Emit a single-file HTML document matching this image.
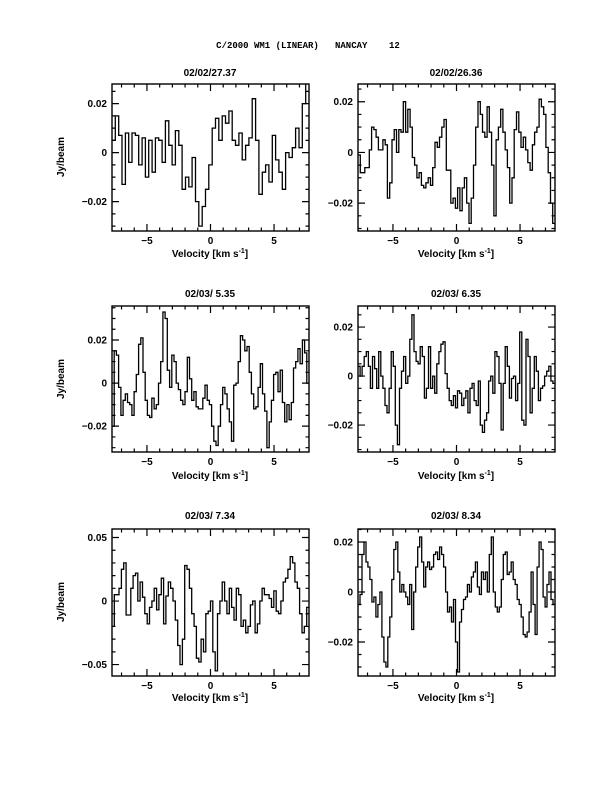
<!DOCTYPE html>
<html><head><meta charset="utf-8"><style>
body{margin:0;background:#fff}
svg{display:block}
text{font-family:"Liberation Sans",sans-serif;font-weight:bold;font-size:10px;fill:#000}
.m{font-family:"Liberation Mono",monospace;font-weight:bold;font-size:9px;white-space:pre}
</style></head><body>
<svg id="s" width="612" height="792" xmlns="http://www.w3.org/2000/svg">
<text class="m" x="308" y="48" text-anchor="middle" xml:space="preserve">C/2000 WM1 (LINEAR)   NANCAY    12</text>
<text x="210" y="76" text-anchor="middle">02/02/27.37</text>
<text x="456" y="76" text-anchor="middle">02/02/26.36</text>
<text x="210" y="297" text-anchor="middle">02/03/ 5.35</text>
<text x="456" y="297" text-anchor="middle">02/03/ 6.35</text>
<text x="210" y="519" text-anchor="middle">02/03/ 7.34</text>
<text x="456" y="519" text-anchor="middle">02/03/ 8.34</text>
<text x="210" y="257" text-anchor="middle">Velocity [km s<tspan dy="-4" font-size="7">-1</tspan><tspan dy="4">]</tspan></text>
<text x="456" y="257" text-anchor="middle">Velocity [km s<tspan dy="-4" font-size="7">-1</tspan><tspan dy="4">]</tspan></text>
<text x="210" y="479" text-anchor="middle">Velocity [km s<tspan dy="-4" font-size="7">-1</tspan><tspan dy="4">]</tspan></text>
<text x="456" y="479" text-anchor="middle">Velocity [km s<tspan dy="-4" font-size="7">-1</tspan><tspan dy="4">]</tspan></text>
<text x="210" y="701" text-anchor="middle">Velocity [km s<tspan dy="-4" font-size="7">-1</tspan><tspan dy="4">]</tspan></text>
<text x="456" y="701" text-anchor="middle">Velocity [km s<tspan dy="-4" font-size="7">-1</tspan><tspan dy="4">]</tspan></text>
<text transform="translate(64,157) rotate(-90)" text-anchor="middle">Jy/beam</text>
<text transform="translate(64,379) rotate(-90)" text-anchor="middle">Jy/beam</text>
<text transform="translate(64,602) rotate(-90)" text-anchor="middle">Jy/beam</text>
<g id="g"></g>
</svg>
<script>
var P=[
{x0:112,x1:309,y0:84,y1:231,v0:0.028,v1:-0.032,maj:[[0.02,'0.02'],[0,'0'],[-0.02,'-0.02']],mn:0.005,d:[0.005,0.015,0.007,-0.013,0.008,-0.004,0.008,0.007,-0.005,0.006,-0.01,0.005,-0.008,0.006,0.005,-0.004,0.013,0.003,-0.005,0.009,0.003,-0.015,-0.01,-0.014,-0.002,-0.02,-0.03,-0.022,-0.015,-0.005,0.01,0.014,0.005,0.015,0.012,0.017,0.005,0.003,0.008,-0.003,0.003,0.006,0.022,0.005,-0.017,-0.008,-0.005,-0.012,0.007,-0.003,-0.008,-0.015,0.0,-0.002,0.002,0.01,0.002,0.02,0.03]},
{x0:358,x1:555,y0:84,y1:231,v0:0.027,v1:-0.031,maj:[[0.02,'0.02'],[0,'0'],[-0.02,'-0.02']],mn:0.005,d:[-0.001,-0.008,-0.008,-0.006,-0.006,0.001,0.01,0.009,0.006,0.001,0.001,0.005,0.003,-0.018,-0.012,0.005,0.009,0.0,0.009,0.008,0.02,0.008,0.017,0.01,-0.002,-0.005,-0.01,-0.008,-0.013,-0.014,-0.012,-0.01,-0.013,-0.006,0.004,0.002,0.006,0.01,0.013,-0.007,-0.007,-0.02,-0.018,-0.022,-0.014,-0.023,-0.014,-0.01,-0.02,-0.028,-0.018,-0.005,0.01,0.02,0.015,0.008,0.006,0.018,0.008,-0.005,-0.025,0.005,0.01,0.017,0.008,0.001,-0.006,-0.02,-0.01,0.009,0.016,0.008,0.002,0.006,0.001,-0.004,-0.007,0.003,0.008,0.01,0.021,0.018,0.015,0.002,-0.008,-0.02,-0.028]},
{x0:112,x1:309,y0:306,y1:452,v0:0.0358,v1:-0.032,maj:[[0.02,'0.02'],[0,'0'],[-0.02,'-0.02']],mn:0.005,d:[-0.02,0.015,0.013,-0.002,-0.015,-0.008,-0.005,-0.009,-0.01,-0.015,-0.004,0.004,0.018,0.021,0.005,-0.008,-0.015,-0.016,-0.007,-0.012,-0.01,0.0,0.01,0.033,0.03,0.006,-0.002,0.013,0.01,0.0,-0.003,-0.008,-0.01,-0.004,0.012,0.002,-0.008,-0.004,-0.011,-0.012,-0.012,-0.007,-0.001,-0.008,-0.01,-0.02,-0.027,-0.029,-0.02,-0.01,-0.002,-0.005,-0.012,-0.018,-0.027,-0.001,0,0.01,0.022,0.02,0.015,0.017,0.005,-0.005,-0.012,-0.011,-0.002,0.009,-0.005,-0.013,-0.03,-0.018,-0.008,0.004,0.005,-0.004,0.006,-0.009,-0.018,-0.01,-0.017,-0.009,0.007,0.01,0.016,0.009,0.02,0.014,0.0]},
{x0:358,x1:555,y0:306,y1:452,v0:0.0286,v1:-0.031,maj:[[0.02,'0.02'],[0,'0'],[-0.02,'-0.02']],mn:0.005,d:[0.004,0.0,0.004,0.008,0.01,0.004,-0.005,0.008,0.003,-0.005,0.01,0.0,-0.005,-0.012,-0.015,-0.005,0.01,0.004,-0.02,-0.028,-0.005,0.002,0.008,-0.003,0.0,0.015,0.025,0.01,0.006,0.005,0.012,0.008,-0.009,-0.005,0.012,-0.005,0.0,-0.007,0.005,0.01,0.013,0.014,0.001,-0.005,-0.01,-0.012,-0.008,-0.013,-0.006,-0.007,-0.012,-0.009,-0.006,-0.015,-0.005,-0.003,-0.01,-0.012,-0.002,-0.02,-0.023,-0.018,-0.015,-0.002,0.0,-0.007,0.01,0.008,-0.003,-0.022,-0.003,0.012,0.004,-0.009,-0.001,0.0,-0.01,-0.003,0.018,-0.018,-0.02,0.015,0.008,-0.015,-0.005,0.008,0.002,-0.01,-0.005,-0.004,0.0,0.002,0.004,-0.002,-0.003]},
{x0:112,x1:309,y0:529,y1:676,v0:0.0567,v1:-0.059,maj:[[0.05,'0.05'],[0,'0'],[-0.05,'-0.05']],mn:0.01,d:[-0.02,0.005,0.005,0.01,0.025,0.03,-0.011,-0.011,0.01,0.02,0.022,0.0,0.015,0.003,-0.01,-0.018,-0.005,0.0,0.01,-0.007,0.005,0.018,-0.018,0.004,0.015,0.01,0.0,-0.015,-0.035,-0.05,-0.03,0.028,0.025,0.01,-0.01,-0.02,-0.045,-0.048,-0.03,-0.04,-0.01,-0.008,0.0,-0.04,-0.055,-0.01,0.0,0.015,0.0,-0.01,0.01,-0.005,-0.015,0.01,0.005,-0.02,-0.015,-0.025,-0.02,-0.003,0.0,-0.025,-0.018,0.0,0.01,0.005,0.005,0.002,-0.005,0.008,-0.008,-0.01,0.0,0.015,0.018,0.025,0.035,0.03,0.015,0.01,-0.01,-0.025,-0.02,-0.005]},
{x0:358,x1:555,y0:529,y1:676,v0:0.0252,v1:-0.0336,maj:[[0.02,'0.02'],[0,'0'],[-0.02,'-0.02']],mn:0.005,d:[-0.005,-0.001,0.015,0.02,0.012,0.01,0.005,-0.004,-0.002,-0.01,-0.005,0.0,-0.018,-0.028,-0.03,-0.018,-0.01,0.005,0.017,0.02,0.008,0.0,0.003,0.0,-0.002,-0.005,0.003,-0.015,0.0,0.01,0.018,0.022,0.012,0.002,0.01,0.012,0.009,0.01,0.015,0.016,0.013,0.018,0.015,0.01,0.0,-0.008,-0.006,-0.012,-0.003,-0.02,-0.032,-0.012,-0.007,-0.003,-0.002,0.003,0.0,0.006,0.008,0.012,0.002,-0.001,0.008,0.005,0.008,0.0,0.015,0.022,0.0,-0.006,-0.008,-0.006,0.005,0.015,0.016,0.007,0.008,0.012,0.005,0.003,-0.003,-0.005,-0.01,-0.017,-0.018,-0.016,-0.008,0.008,-0.005,-0.017,0.01,0.02,0.017,-0.002,-0.006,0.003,0.008,-0.003,-0.005]}
];
var h='';
P.forEach(function(p,idx){
 var W=p.x1-p.x0,H=p.y1-p.y0,cx=(p.x0+p.x1)/2,sc=W/15.5;
 function Y(v){return p.y0+(p.v0-v)/(p.v0-p.v1)*H;}
 h+='<clipPath id="c'+idx+'"><rect x="'+p.x0+'" y="'+p.y0+'" width="'+W+'" height="'+H+'"/></clipPath>';
 h+='<rect x="'+p.x0+'" y="'+p.y0+'" width="'+W+'" height="'+H+'" fill="none" stroke="#000" stroke-width="1.4"/>';
 var t='';
 for(var k=-7;k<=7;k++){var x=cx+k*sc,L=(k%5==0)?7:3.5;
  t+='M'+x+' '+p.y1+'v-'+L+'M'+x+' '+p.y0+'v'+L;
  if(k%5==0)h+='<text x="'+x+'" y="'+(p.y1+13)+'" text-anchor="middle">'+(k<0?'\u2212'+(-k):k)+'</text>';}
 for(var v=-0.1;v<=0.1001;v+=p.mn){var vv=Math.round(v*1000)/1000;if(vv>p.v0||vv<p.v1)continue;var y=Y(vv);
  var isM=p.maj.some(function(m){return Math.abs(m[0]-vv)<1e-6;});var L=isM?7:3.5;
  t+='M'+p.x0+' '+y+'h'+L+'M'+p.x1+' '+y+'h-'+L;}
 p.maj.forEach(function(m){h+='<text x="'+(p.x0-5)+'" y="'+(Y(m[0])+3.5)+'" text-anchor="end">'+m[1].replace('-','\u2212')+'</text>';});
 h+='<path d="'+t+'" stroke="#000" stroke-width="1.2" fill="none"/>';
 var n=p.d.length,dw=W/n,s='';
 for(var i=0;i<n;i++){var y=Y(p.d[i]).toFixed(1);var xa=(p.x0+i*dw).toFixed(1),xb=(p.x0+(i+1)*dw).toFixed(1);
  s+=(i==0?'M'+xa+' '+y:'V'+y)+'H'+xb;}
 h+='<path clip-path="url(#c'+idx+')" d="'+s+'" stroke="#000" stroke-width="1.3" fill="none"/>';
});
document.getElementById('g').innerHTML=h;
</script>
</body></html>
